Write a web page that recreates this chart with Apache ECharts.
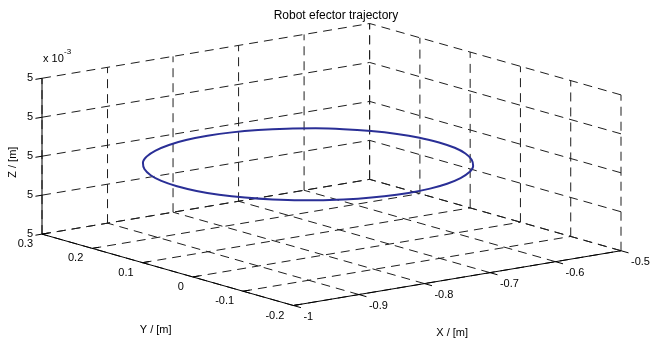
<!DOCTYPE html>
<html>
<head>
<meta charset="utf-8">
<script src="https://cdn.jsdelivr.net/npm/echarts@6/dist/echarts.min.js"></script>
<style>
html,body{margin:0;padding:0;background:#fff;}
#chart{width:653px;height:346px;}
</style>
</head>
<body>
<div id="chart"></div>
<script>
// ---- data ----
const titleText = 'Robot efector trajectory';
const xLim = [-1, -0.5];
const yLim = [-0.2, 0.3];
const zLim = [0.004999998, 0.005000002];
const xTicks = [-1, -0.9, -0.8, -0.7, -0.6, -0.5];
const xTickLabels = ['-1', '-0.9', '-0.8', '-0.7', '-0.6', '-0.5'];
const yTicks = [-0.2, -0.1, 0, 0.1, 0.2, 0.3];
const yTickLabels = ['-0.2', '-0.1', '0', '0.1', '0.2', '0.3'];
const zTicks = [0.004999998, 0.004999999, 0.005, 0.005000001, 0.005000002];
const zTickLabels = ['5', '5', '5', '5', '5'];
const zExponent = '-3';
const xName = 'X / [m]', yName = 'Y / [m]', zName = 'Z / [m]';
// trajectory of the effector
const trajX = [-0.572,-0.575,-0.584,-0.599,-0.619,-0.643,-0.672,-0.704,-0.737,-0.772,
  -0.807,-0.840,-0.872,-0.901,-0.925,-0.945,-0.960,-0.969,-0.972,-0.969,-0.960,-0.945,
  -0.925,-0.901,-0.872,-0.840,-0.807,-0.772,-0.737,-0.704,-0.672,-0.643,-0.619,-0.599,
  -0.584,-0.575,-0.572];
const trajY = [0.068,0.103,0.136,0.168,0.197,0.221,0.241,0.256,0.265,0.268,
  0.265,0.256,0.241,0.221,0.197,0.168,0.136,0.103,0.068,0.033,0.000,-0.032,
  -0.061,-0.085,-0.105,-0.120,-0.129,-0.132,-0.129,-0.120,-0.105,-0.085,-0.061,-0.032,
  0.000,0.033,0.068];
const trajZ = 0.005;

// ---- view (MATLAB default 3-D view) ----
const AZ = -37.5 * Math.PI / 180, EL = 30 * Math.PI / 180;
const ca = Math.cos(AZ), sa = Math.sin(AZ), ce = Math.cos(EL), se = Math.sin(EL);
function norm(val, lim) { return (val - (lim[0] + lim[1]) / 2) / (lim[1] - lim[0]); }
function proj(x, y, z) {
  const xn = norm(x, xLim), yn = norm(y, yLim), zn = norm(z, zLim);
  const h = xn * ca + yn * sa;
  const v = se * (-xn * sa + yn * ca) + ce * zn;
  return [h, v];
}
const hMax = (Math.abs(ca) + Math.abs(sa)) / 2;
const vMax = se * (Math.abs(ca) + Math.abs(sa)) / 2 + ce / 2;

const [x0, x1] = xLim, [y0, y1] = yLim, [z0, z1] = zLim;

// grid segments on the back planes
const gridSegs = [];
function seg(list, a, b) { list.push(proj(...a).concat(proj(...b))); }
xTicks.forEach(t => seg(gridSegs, [t, y1, z0], [t, y1, z1]));
zTicks.forEach(t => seg(gridSegs, [x0, y1, t], [x1, y1, t]));
yTicks.forEach(t => seg(gridSegs, [x1, t, z0], [x1, t, z1]));
zTicks.forEach(t => seg(gridSegs, [x1, y0, t], [x1, y1, t]));
xTicks.forEach(t => seg(gridSegs, [t, y0, z0], [t, y1, z0]));
yTicks.forEach(t => seg(gridSegs, [x0, t, z0], [x1, t, z0]));

// solid axis lines + tick marks
const axisSegs = [];
seg(axisSegs, [x0, y1, z0], [x0, y1, z1]);
seg(axisSegs, [x0, y1, z0], [x0, y0, z0]);
seg(axisSegs, [x0, y0, z0], [x1, y0, z0]);
const dxT = (x1 - x0) * 0.02, dyT = (y1 - y0) * 0.03;
zTicks.forEach(t => seg(axisSegs, [x0, y1, t], [x0 - dxT, y1, t]));
yTicks.forEach(t => seg(axisSegs, [x0, t, z0], [x0 + dxT, t, z0]));
xTicks.forEach(t => seg(axisSegs, [t, y0, z0], [t, y0 - dyT, z0]));

// texts
const texts = [];
function addText(p, text, dx, dy, align, size, rotate) {
  texts.push({ p: p, text: text, dx: dx, dy: dy, align: align, size: size || 11, rotate: rotate || 0 });
}
xTicks.forEach((t, i) => addText(proj(t, y0, z0), xTickLabels[i], 10, 11, 'left'));
yTicks.forEach((t, i) => addText(proj(x0, t, z0), yTickLabels[i], -9, 10, 'right'));
zTicks.forEach((t, i) => addText(proj(x0, y1, t), zTickLabels[i], -9, 0, 'right'));
addText(proj(x0, y1, z1), 'x 10', 1, -19, 'left');
addText(proj(x0, y1, z1), zExponent, 22, -26, 'left', 8);
addText(proj((x0 + x1) / 2, y0, z0), xName, -5, 55, 'center');
addText(proj(x0, (y0 + y1) / 2, z0), yName, -12, 60, 'center');
addText(proj(x0, y1, (z0 + z1) / 2), zName, -29, 6, 'center', 11, Math.PI / 2);

const trajData = trajX.map((x, i) => proj(x, trajY[i], trajZ));

const FONT = '"Liberation Sans", Arial, Helvetica, sans-serif';

function segRender(color, dash) {
  return function (params, api) {
    const a = api.coord([api.value(0), api.value(1)]);
    const b = api.coord([api.value(2), api.value(3)]);
    return {
      type: 'line',
      shape: { x1: a[0], y1: a[1], x2: b[0], y2: b[1] },
      style: { stroke: color, lineWidth: 1, lineDash: dash, fill: null }
    };
  };
}

const chart = echarts.init(document.getElementById('chart'), null, { renderer: 'canvas' });
chart.setOption({
  animation: false,
  backgroundColor: '#ffffff',
  title: {
    text: titleText, left: 331, top: 5, textAlign: 'center',
    textStyle: { fontFamily: FONT, fontSize: 12, fontWeight: 'normal', color: '#000' }
  },
  grid: { left: 42, right: 32, top: 23.5, bottom: 40.5, containLabel: false },
  xAxis: { type: 'value', min: -hMax, max: hMax, show: false },
  yAxis: { type: 'value', min: -vMax, max: vMax, show: false },
  series: [
    {
      type: 'custom', name: 'grid', clip: false, silent: true,
      data: gridSegs, encode: { x: [0, 2], y: [1, 3] },
      renderItem: segRender('#1e1e1e', [9, 6])
    },
    {
      type: 'custom', name: 'axes', clip: false, silent: true,
      data: axisSegs, encode: { x: [0, 2], y: [1, 3] },
      renderItem: segRender('#000', null)
    },
    {
      type: 'line', name: 'trajectory', data: trajData, smooth: 0.4,
      showSymbol: false, symbol: 'none', clip: false,
      lineStyle: { color: '#2a2f96', width: 2 }
    },
    {
      type: 'custom', name: 'texts', clip: false, silent: true,
      data: texts.map((t, i) => [t.p[0], t.p[1], i]), encode: { x: 0, y: 1 },
      renderItem: function (params, api) {
        const t = texts[params.dataIndex];
        const c = api.coord([api.value(0), api.value(1)]);
        return {
          type: 'text',
          x: c[0] + t.dx, y: c[1] + t.dy, rotation: t.rotate,
          style: {
            text: t.text, fill: '#000', align: t.align, verticalAlign: 'middle',
            font: t.size + 'px ' + FONT
          }
        };
      }
    }
  ]
});
</script>
</body>
</html>
